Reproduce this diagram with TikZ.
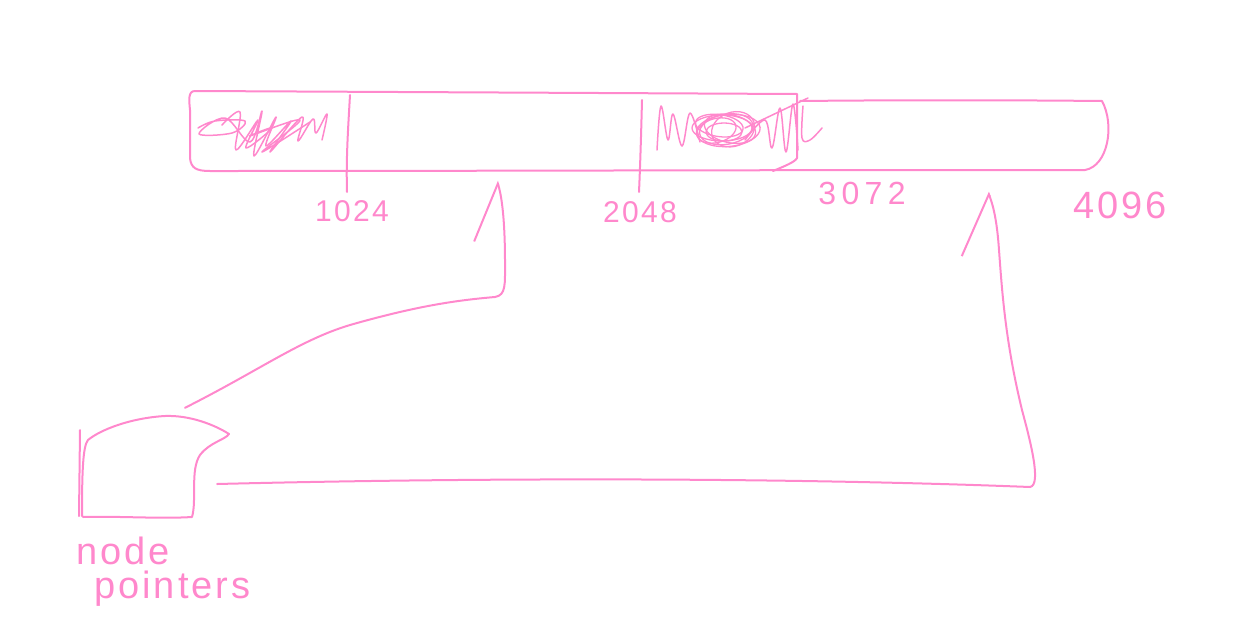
\documentclass[tikz,border=0pt]{standalone}
\usepackage{fontspec}
\usetikzlibrary{arrows.meta}
\newfontfamily\hand{Liberation Sans}[LetterSpace=8]
\definecolor{pinkline}{HTML}{FF88CC}
\begin{document}
\begin{tikzpicture}[x=1pt,y=-1pt,
  sketch/.style={draw=pinkline,line width=2pt,line cap=round,line join=round},
  conn/.style={sketch,-{Straight Barb[left,length=48pt,width=#1,line width=2pt]}},
  conn/.default=80pt,
  lbl/.style={text=pinkline,font=\hand\fontsize{30}{34}\selectfont,inner sep=0pt}]
\useasboundingbox (0,0) rectangle (1234,632);
% memory bar
\draw[sketch] (797,158) -- (797,94) .. controls (600,93) and (400,92) .. (195,91)
  .. controls (188,91) and (189,100) .. (190,110) -- (190,158)
  .. controls (191,168) and (196,171) .. (210,171)
  .. controls (500,171) and (700,170) .. (1085,170)
  .. controls (1108,166) and (1115,125) .. (1102,101)
  .. controls (1000,100) and (900,100) .. (800,101);
\draw[sketch] (797,158) .. controls (795,162) and (785,166) .. (773,171);
% dividers
\draw[sketch] (350,95) .. controls (348,130) and (346,160) .. (347,192);
\draw[sketch] (642,100) .. controls (641,140) and (640,170) .. (639,192);
% scribble 1
\draw[sketch,line width=1.5pt] plot[smooth,tension=0.6] coordinates {(198,128) (215,121) (245,121) (232,133) (199,134) (225,118) (250,142) (262,111) (254,156) (276,117) (266,146) (291,121) (270,152) (302,117) (298,141) (313,119) (316,133) (327,114) (322,140)};
\draw[sketch,line width=1.5pt] plot[smooth,tension=0.6] coordinates {(222,125) (240,112) (236,150) (258,120) (246,148) (272,128) (250,136) (300,120) (262,152) (310,122)};
% scribble 2
\draw[sketch,line width=1.5pt] plot[smooth,tension=0.6] coordinates {(657,150) (661,106) (668,140) (673,114) (682,146) (690,113) (700,142)};
\foreach \r/\s/\a/\dx/\dy in {30/13/0/0/0, 27/15/10/4/2, 24/11/-8/-3/-2, 32/16/5/6/3, 20/12/15/-6/1, 26/14/-12/8/-1, 18/9/0/2/4, 22/17/20/10/5}
  \draw[sketch,line width=1.3pt,rotate around={\a:(722,128)}] (722+\dx,128+\dy) ellipse ({\r} and {\s});
\draw[sketch,line width=1.5pt] plot[smooth,tension=0.6] coordinates {(745,140) (765,120) (772,148) (780,108) (786,152) (793,104) (798,150)};
\draw[sketch,line width=1.5pt] (745,128) -- (808,98);
\draw[sketch,line width=1.5pt] plot[smooth,tension=0.6] coordinates {(803,106) (802,138) (810,140) (822,128)};
% labels on the bar
\node[lbl] (l1) at (352,211) {1024};
\node[lbl] (l2) at (640,212) {2048};
\node[lbl,font=\hand\fontsize{32}{34}\selectfont] (l3) at (862,193) {3\,0\,7\,2};
\node[lbl,font=\hand\fontsize{38}{40}\selectfont] (l4) at (1120,205) {4096};
% targets on the bar
\coordinate (t1) at (497,181);
\coordinate (t2) at (988,192);
% node pointers box
\node[minimum width=150pt,minimum height=100pt,inner sep=0pt] (np) at (155,468) {};
\draw[sketch] (80,430) -- (79,516);
\draw[sketch] (83,517) .. controls (120,516) and (160,519) .. (192,517)
  .. controls (197,500) and (190,470) .. (200,455)
  .. controls (210,442) and (225,440) .. (229,434)
  .. controls (215,425) and (190,415) .. (165,416)
  .. controls (130,418) and (100,430) .. (88,440)
  .. controls (83,446) and (82,470) .. (82,516);
\node[lbl,font=\hand\fontsize{38}{40}\selectfont,align=left,anchor=north west] (nlbl) at (76,537) {node\\[-6pt]\hspace*{18pt}pointers};
% connectors
\draw[conn] ([xshift=30pt,yshift=10pt]np.north) .. controls (260,370) and (300,340) .. (350,325)
  .. controls (420,305) and (460,300) .. (495,297)
  .. controls (506,295) and (505,285) .. (505,262)
  .. controls (505,230) and (503,200) .. (t1);
\draw[conn=95pt] ([xshift=-13pt,yshift=-16pt]np.east) .. controls (500,477) and (800,478) .. (1030,487)
  .. controls (1042,485) and (1030,440) .. (1022,410)
  .. controls (1005,340) and (1002,290) .. (999,250)
  .. controls (997,220) and (993,205) .. (t2);
\end{tikzpicture}
\end{document}
